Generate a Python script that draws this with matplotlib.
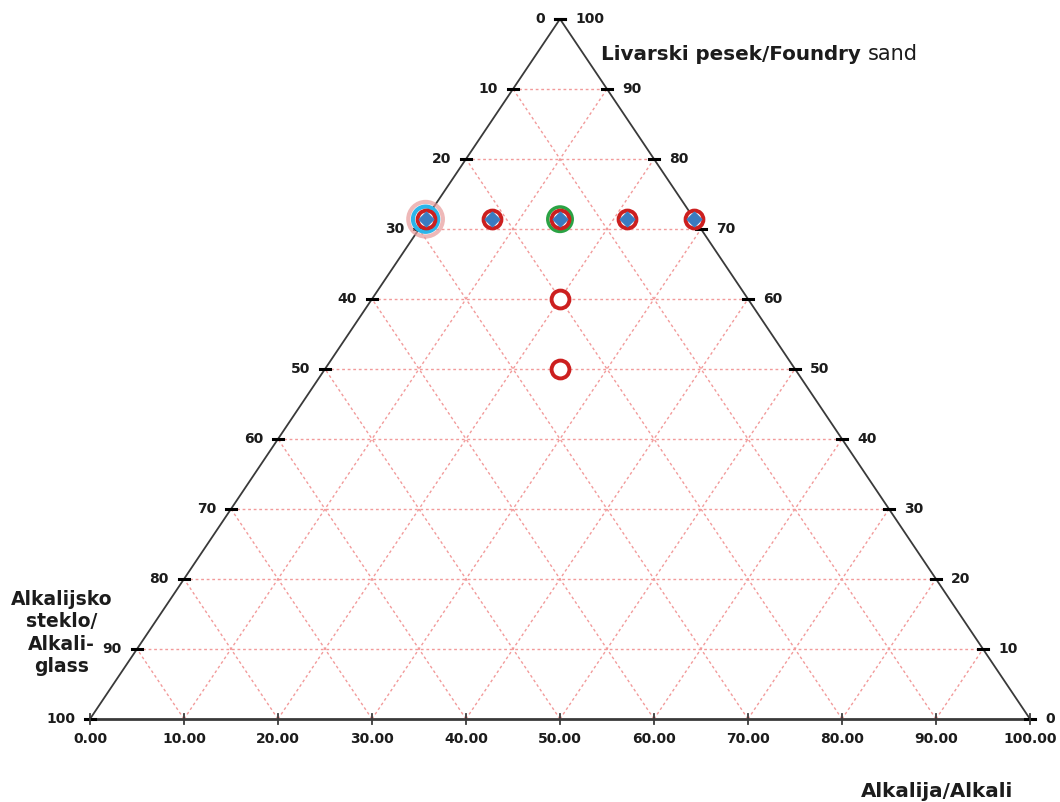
import matplotlib.pyplot as plt

# composition of the tested mixtures (wt.%)
sand = [71.4, 71.4, 71.4, 71.4, 71.4, 60, 50]
alkali = [0, 7.1, 14.3, 21.4, 28.6, 20, 25]
# mixtures that also carry the blue diamond
filled = [0, 1, 2, 3, 4]
# highlighted mixtures
cyan_idx = 0
pink_idx = 0
green_idx = 2

ticks = list(range(0, 101, 10))
bottom_labels = [f"{t:.2f}" for t in ticks]
glass_title = ["Alkalijsko", "steklo/", "Alkali-", "glass"]

grid_color = "#f29a9a"
edge_color = "#3a3a3a"
text_color = "#1c1c1c"


def to_xy(s, a):
    return a + s / 2.0, s


def main():
    fig = plt.figure(figsize=(10.6, 8.02), dpi=100)
    ax = fig.add_axes([90 / 1060, 83 / 802, 940 / 1060, 700 / 802])
    ax.set_xlim(0, 100)
    ax.set_ylim(0, 100)
    ax.axis("off")

    # grid
    dots = (0, (2, 2))
    for t in ticks[1:-1]:
        ax.plot([t / 2, 100 - t / 2], [t, t], ls=dots, color=grid_color, lw=1.0, zorder=1)
        ax.plot([t, t + (100 - t) / 2], [0, 100 - t], ls=dots, color=grid_color, lw=1.0, zorder=1)
        ax.plot([t, t / 2], [0, t], ls=dots, color=grid_color, lw=1.0, zorder=1)

    # triangle
    ax.plot([0, 50, 100], [0, 100, 0], color=edge_color, lw=1.3, zorder=2, clip_on=False)
    ax.plot([0, 100], [0, 0], color=edge_color, lw=2.0, zorder=2, clip_on=False)

    # ticks and labels
    for t in ticks:
        # left edge: alkali glass
        xl, yl = to_xy(t, 0)
        ax.plot([xl - 0.55, xl + 0.55], [yl, yl], color="black", lw=2.2, zorder=3, clip_on=False)
        ax.text(xl - 1.6, yl, str(100 - t), ha="right", va="center", fontsize=10,
                fontweight="bold", color=text_color)
        # right edge: foundry sand
        xr, yr = to_xy(t, 100 - t)
        ax.plot([xr - 0.55, xr + 0.55], [yr, yr], color="black", lw=2.2, zorder=3, clip_on=False)
        ax.text(xr + 1.6, yr, str(t), ha="left", va="center", fontsize=10,
                fontweight="bold", color=text_color)
        # bottom: alkali
        ax.plot([t, t], [-0.75, 0.75], color=edge_color, lw=1.3, zorder=3, clip_on=False)
        ax.text(t, -2.9, bottom_labels[ticks.index(t)], ha="center", va="center",
                fontsize=10, fontweight="bold", color=text_color)

    # axis titles
    title = ax.text(54.4, 94.9, "Livarski pesek/Foundry", ha="left", va="center",
                    fontsize=14.3, fontweight="bold", color=text_color)
    ax.annotate("sand", xy=(1, 0), xycoords=title, xytext=(5, 0), textcoords="offset points",
                ha="left", va="bottom", fontsize=15, color=text_color)
    for i, line in enumerate(glass_title):
        ax.text(-3.0, 17.1 - i * 3.2, line, ha="center", va="center",
                fontsize=13.5, fontweight="bold", color=text_color)
    ax.text(90.1, -10.4, "Alkalija/Alkali", ha="center", va="center",
            fontsize=14.3, fontweight="bold", color=text_color)

    xs = [a + s / 2 for s, a in zip(sand, alkali)]
    ys = sand

    # highlight rings
    ax.scatter([xs[pink_idx]], [ys[pink_idx]], s=620, facecolors="none",
               edgecolors="#e89a9a", linewidths=3, alpha=0.7, zorder=4)
    ax.scatter([xs[cyan_idx]], [ys[cyan_idx]], s=330, facecolors="none",
               edgecolors="#2bb5ea", linewidths=3, zorder=5)
    ax.scatter([xs[green_idx]], [ys[green_idx]], s=310, facecolors="none",
               edgecolors="#2aa344", linewidths=2.5, zorder=5)

    # all mixtures
    ax.scatter(xs, ys, s=165, facecolors="white", edgecolors="#cc1f1f", linewidths=2.8, zorder=6)
    ax.scatter([xs[i] for i in filled], [ys[i] for i in filled], s=55, marker="D",
               color="#3b7bc0", zorder=7)

    fig.savefig("out.png", dpi=100)


if __name__ == '__main__':
    main()
